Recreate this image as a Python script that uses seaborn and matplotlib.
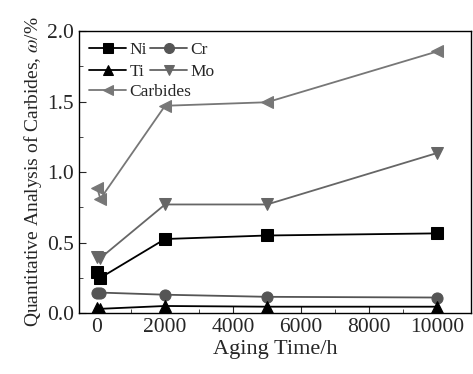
import pandas as pd
import numpy as np
import seaborn as sns
import matplotlib.pyplot as plt
from matplotlib.ticker import MultipleLocator

# aging time in hours (first two points: as-received and ~100 h)
aging_time = [0, 100, 2000, 5000, 10000]

ni = [0.29, 0.25, 0.525, 0.55, 0.565]
cr = [0.145, 0.145, 0.13, 0.115, 0.11]
ti = [0.035, 0.03, 0.05, 0.045, 0.045]
mo = [0.40, 0.39, 0.77, 0.77, 1.135]
carbides = [0.89, 0.81, 1.47, 1.495, 1.855]

series = {
    "Ni": (ni, "s", "black"),
    "Cr": (cr, "o", "#555555"),
    "Ti": (ti, "^", "black"),
    "Mo": (mo, "v", "#666666"),
    "Carbides": (carbides, "<", "#777777"),
}

sns.set_style("ticks")
plt.rcParams["font.family"] = ["Liberation Serif", "DejaVu Serif"]
plt.rcParams["mathtext.fontset"] = "stix"

fig = plt.figure(figsize=(4.73, 3.74), dpi=100)
ax = fig.add_axes([0.167, 0.163, 0.829, 0.754])

handles = {}
for name, (vals, mk, col) in series.items():
    df = pd.DataFrame({"t": aging_time, "v": vals})
    sns.lineplot(data=df, x="t", y="v", ax=ax, color=col, marker=mk,
                 markersize=8, markeredgecolor=col, linewidth=1.3,
                 label=name, legend=False)
    handles[name] = ax.lines[-1]

ax.set_xlim(-530, 11000)
ax.set_ylim(0, 2.0)
ax.xaxis.set_major_locator(MultipleLocator(2000))
ax.xaxis.set_minor_locator(MultipleLocator(1000))
ax.yaxis.set_major_locator(MultipleLocator(0.5))
ax.yaxis.set_minor_locator(MultipleLocator(0.25))
ax.tick_params(which="both", direction="in", labelsize=15.5)
ax.tick_params(which="major", length=5)
ax.tick_params(which="minor", length=3)
for s in ax.spines.values():
    s.set_linewidth(1.0)
    s.set_color("black")

ax.set_xlabel("Aging Time/h", fontsize=16, labelpad=2)
ax.set_ylabel(r"Quantitative Analysis of Carbides, $\omega$/%", fontsize=14,
              labelpad=2)

# legend: two columns for Ni/Cr, Ti/Mo, then Carbides on its own row
leg_kw = dict(frameon=False, fontsize=12.5, handlelength=2.1,
              handletextpad=0.2, columnspacing=0.2, labelspacing=0.35,
              borderaxespad=0.3, borderpad=0.3, markerscale=0.9)
top = ["Ni", "Ti", "Cr", "Mo"]
leg1 = ax.legend([handles[k] for k in top], top, ncol=2, loc="upper left",
                 **leg_kw)
ax.add_artist(leg1)
ax.legend([handles["Carbides"]], ["Carbides"], loc="upper left",
          bbox_to_anchor=(0, 1 - 42 / 282), **leg_kw)

fig.savefig("out.png", dpi=100)
